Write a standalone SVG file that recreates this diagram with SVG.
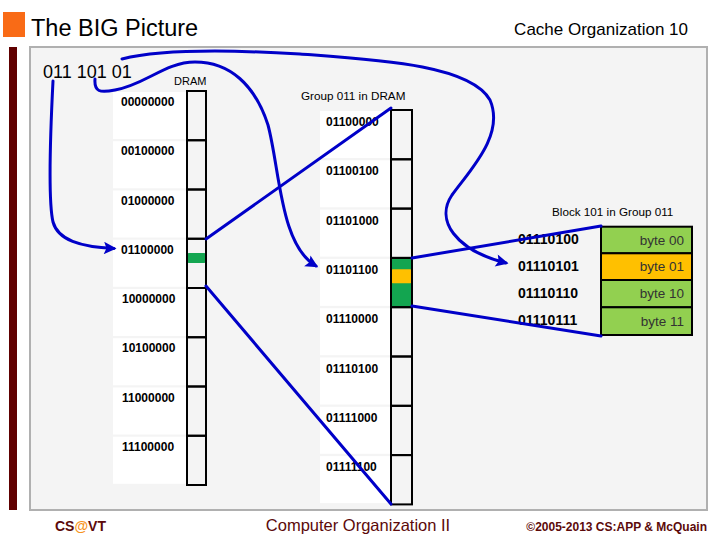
<svg xmlns="http://www.w3.org/2000/svg" width="720" height="540" viewBox="0 0 720 540">
<defs>
<style>
.lbl{font-family:"Liberation Sans",Arial,sans-serif;font-weight:bold;font-size:12px;fill:#000}
.blbl{font-family:"Liberation Sans",Arial,sans-serif;font-weight:bold;font-size:14px;fill:#000}
.cap{font-family:"Liberation Sans",Arial,sans-serif;font-size:11.7px;fill:#000}
.cell{fill:#ffffff}
.box{fill:none;stroke:#000;stroke-width:2}
.byte{stroke:#000;stroke-width:2}
.btxt{font-family:"Liberation Sans",Arial,sans-serif;font-size:13.5px;fill:#333;text-anchor:end}
.conn{fill:none;stroke:#0000c8;stroke-width:3;stroke-linecap:round}
.foot{font-family:"Liberation Sans",Arial,sans-serif;fill:#5c0a0a}
</style>
<marker id="arr" viewBox="0 0 10 10" refX="8" refY="5" markerWidth="4.5" markerHeight="4.2" orient="auto" markerUnits="strokeWidth">
<path d="M0,0 L10,5 L0,10 L2,5 z" fill="#0000c8"/>
</marker>
</defs>
<rect width="720" height="540" fill="#ffffff"/>
<g id="frame">
<rect x="3" y="12" width="22" height="25" fill="#f96b16"/>
<text x="31" y="36" font-family="'Liberation Sans',Arial,sans-serif" font-size="23.5" fill="#000">The BIG Picture</text>
<text x="688" y="35" font-family="'Liberation Sans',Arial,sans-serif" font-size="17" fill="#000" text-anchor="end">Cache Organization 10</text>
<rect x="9" y="47" width="8" height="463" fill="#600000"/>
<rect x="30" y="47" width="677" height="463" fill="#f4f4f4" stroke="#b0b0b0" stroke-width="2"/>
</g>
<g id="address">
<text x="43" y="78" font-family="'Liberation Sans',Arial,sans-serif" font-size="18" fill="#000">011 101 01</text>
</g>
<g id="dram">
<text x="174" y="85" font-family="'Liberation Sans',Arial,sans-serif" font-size="11" fill="#000">DRAM</text>
<rect class="cell" x="113" y="92" width="73" height="47"/>
<rect class="cell" x="113" y="141.25" width="73" height="47"/>
<rect class="cell" x="113" y="190.5" width="73" height="47"/>
<rect class="cell" x="113" y="239.75" width="73" height="47"/>
<rect class="cell" x="113" y="289" width="73" height="47"/>
<rect class="cell" x="113" y="338.25" width="73" height="47"/>
<rect class="cell" x="113" y="387.5" width="73" height="47"/>
<rect class="cell" x="113" y="436.75" width="73" height="47"/>
<text class="lbl" x="121" y="106">00000000</text>
<text class="lbl" x="121" y="155.25">00100000</text>
<text class="lbl" x="121" y="204.5">01000000</text>
<text class="lbl" x="121" y="253.75">01100000</text>
<text class="lbl" x="122" y="303">10000000</text>
<text class="lbl" x="122" y="352.25">10100000</text>
<text class="lbl" x="122" y="401.5">11000000</text>
<text class="lbl" x="122" y="450.75">11100000</text>
<rect x="186" y="253" width="21" height="10" rx="3" fill="#14a651"/>
<rect class="box" x="187" y="91" width="19" height="49.25"/>
<rect class="box" x="187" y="140.25" width="19" height="49.25"/>
<rect class="box" x="187" y="189.5" width="19" height="49.25"/>
<rect class="box" x="187" y="238.75" width="19" height="49.25"/>
<rect class="box" x="187" y="288" width="19" height="49.25"/>
<rect class="box" x="187" y="337.25" width="19" height="49.25"/>
<rect class="box" x="187" y="386.5" width="19" height="49.25"/>
<rect class="box" x="187" y="435.75" width="19" height="49.25"/>
</g>
<g id="group011">
<text class="cap" x="301" y="100">Group 011 in DRAM</text>
<rect class="cell" x="320" y="111" width="71" height="47"/>
<rect class="cell" x="320" y="160.3" width="71" height="47"/>
<rect class="cell" x="320" y="209.6" width="71" height="47"/>
<rect class="cell" x="320" y="258.9" width="71" height="47"/>
<rect class="cell" x="320" y="308.2" width="71" height="47"/>
<rect class="cell" x="320" y="357.5" width="71" height="47"/>
<rect class="cell" x="320" y="406.8" width="71" height="47"/>
<rect class="cell" x="320" y="456.1" width="71" height="47"/>
<text class="lbl" x="326" y="126">01100000</text>
<text class="lbl" x="326" y="175.3">01100100</text>
<text class="lbl" x="326" y="224.6">01101000</text>
<text class="lbl" x="326" y="273.9">01101100</text>
<text class="lbl" x="326" y="323.2">01110000</text>
<text class="lbl" x="326" y="372.5">01110100</text>
<text class="lbl" x="326" y="421.8">01111000</text>
<text class="lbl" x="326" y="471.1">01111100</text>
<rect x="391" y="257.9" width="21" height="49.3" fill="#13a550"/>
<rect x="390" y="269.3" width="23" height="14" rx="3" fill="#ffc000"/>
<rect class="box" x="391" y="110" width="21" height="49.3"/>
<rect class="box" x="391" y="159.3" width="21" height="49.3"/>
<rect class="box" x="391" y="208.6" width="21" height="49.3"/>
<rect class="box" x="391" y="257.9" width="21" height="49.3"/>
<rect class="box" x="391" y="307.2" width="21" height="49.3"/>
<rect class="box" x="391" y="356.5" width="21" height="49.3"/>
<rect class="box" x="391" y="405.8" width="21" height="49.3"/>
<rect class="box" x="391" y="455.1" width="21" height="49.3"/>
</g>
<g id="block101">
<text class="cap" x="552" y="216">Block 101 in Group 011</text>
<rect class="byte" x="601" y="226.7" width="91" height="26.6" fill="#92d050"/>
<rect class="byte" x="601" y="253.3" width="91" height="26.7" fill="#ffc000"/>
<rect class="byte" x="601" y="280" width="91" height="27.3" fill="#92d050"/>
<rect class="byte" x="601" y="307.3" width="91" height="27.7" fill="#92d050"/>
<text class="btxt" x="684" y="244.5">byte 00</text>
<text class="btxt" x="684" y="271.3">byte 01</text>
<text class="btxt" x="684" y="298.3">byte 10</text>
<text class="btxt" x="684" y="325.8">byte 11</text>
<text class="blbl" x="518" y="244">01110100</text>
<text class="blbl" x="518" y="271">01110101</text>
<text class="blbl" x="518" y="298">01110110</text>
<text class="blbl" x="518" y="325">01110111</text>
</g>
<g id="connectors">
<path class="conn" d="M53 81 C50 140 48 200 53 222 C58 240 80 247 114 248.5" marker-end="url(#arr)"/>
<path class="conn" d="M95 79 C94 92 100 93 115 90 C145 85 165 62 195 62 C230 62 255 85 268 125 C280 170 280 245 316 266" marker-end="url(#arr)"/>
<path class="conn" d="M122 59 C150 52 200 48 300 54 C380 60 470 65 490 100 C505 135 470 170 452 195 C435 220 455 250 506 263" marker-end="url(#arr)"/>
<path class="conn" d="M206 239 L391 108"/>
<path class="conn" d="M206 286 L391 504"/>
<path class="conn" d="M412 258 L601 226"/>
<path class="conn" d="M412 306 L601 336"/>
</g>
<g id="footer">
<text class="foot" x="55" y="531" font-size="14" font-weight="bold">CS<tspan fill="#f7941d">@</tspan>VT</text>
<text class="foot" x="358" y="531" font-size="16.5" text-anchor="middle">Computer Organization II</text>
<text class="foot" x="707" y="531" font-size="12" font-weight="bold" text-anchor="end">©2005-2013 CS:APP &amp; McQuain</text>
</g>
</svg>
